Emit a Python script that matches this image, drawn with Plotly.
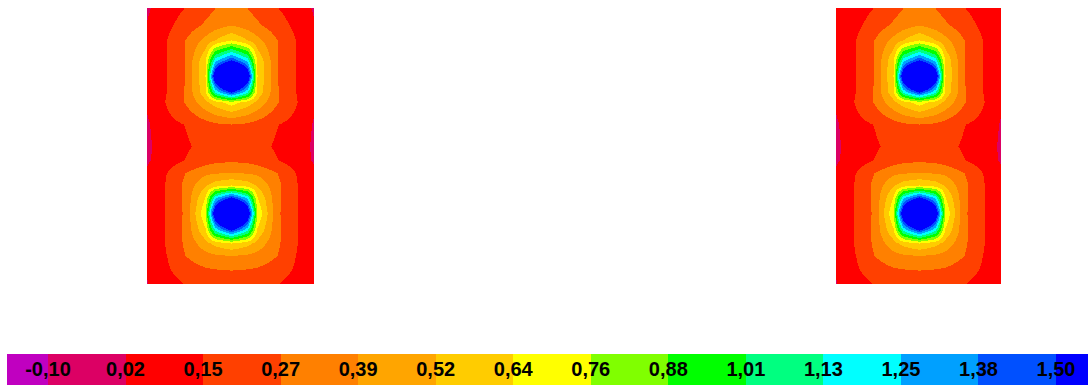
import plotly.graph_objects as go

# ---------------- data ----------------
tick_labels = ["-0,10", "0,02", "0,15", "0,27", "0,39", "0,52", "0,64",
               "0,76", "0,88", "1,01", "1,13", "1,25", "1,38", "1,50"]
tick_low = -0.10
tick_high = 1.50

band_colors = ["#C000C0", "#DC0064", "#FF0000", "#FF4000", "#FF8000",
               "#FFA500", "#FFCC00", "#FFFF00", "#80FF00", "#00FF00",
               "#00FF80", "#00FFFF", "#00A0FF", "#0050FF", "#0000FF"]

# node positions of the sampled field (px inside each panel)
col_pos = [0, 20, 38, 58, 68, 84, 100, 110, 130, 148, 167]
row_pos = [0, 17, 32, 52, 68, 84, 94, 116, 138, 152, 165, 177, 189, 205,
           222, 235, 247, 262, 276]

# values at columns x = 0, 20, 38, 58, 68, 84 (field is mirrored about x = 84)
left_half_rows = [
    [0.01, 0.09, 0.15, 0.22, 0.27, 0.32],
    [0.03, 0.12, 0.20, 0.29, 0.34, 0.39],
    [0.05, 0.15, 0.27, 0.43, 0.52, 0.64],
    [0.05, 0.15, 0.27, 0.62, 1.20, 1.50],
    [0.05, 0.15, 0.27, 0.64, 1.75, 2.80],
    [0.05, 0.15, 0.28, 0.60, 1.15, 1.50],
    [0.04, 0.16, 0.28, 0.48, 0.58, 0.70],
    [0.01, 0.11, 0.15, 0.22, 0.25, 0.27],
    [0.005, 0.08, 0.13, 0.18, 0.20, 0.21],
    [0.01, 0.09, 0.15, 0.21, 0.24, 0.25],
    [0.04, 0.15, 0.27, 0.37, 0.39, 0.40],
    [0.05, 0.16, 0.30, 0.50, 0.58, 0.64],
    [0.05, 0.16, 0.30, 0.64, 1.20, 1.50],
    [0.05, 0.16, 0.29, 0.75, 1.75, 2.80],
    [0.05, 0.16, 0.30, 0.62, 1.15, 1.50],
    [0.05, 0.16, 0.29, 0.47, 0.56, 0.64],
    [0.04, 0.15, 0.27, 0.35, 0.38, 0.40],
    [0.03, 0.13, 0.21, 0.25, 0.26, 0.27],
    [0.02, 0.09, 0.15, 0.20, 0.22, 0.23],
]
# edge values of the right panel (differ slightly from the left one)
right_panel_edge = [0.04, 0.05, 0.05, 0.05, 0.05, 0.05, 0.04, 0.01, 0.005,
                    0.01, 0.04, 0.05, 0.05, 0.05, 0.05, 0.05, 0.04, 0.03, 0.02]


def full_grid(half_rows, edge=None):
    grid = []
    for i, r in enumerate(half_rows):
        r = list(r)
        if edge is not None:
            r[0] = edge[i]
        grid.append(r + r[-2::-1])
    return grid


z_left = full_grid(left_half_rows)
z_right = full_grid(left_half_rows, right_panel_edge)

# ---------------- colour scale ----------------
n_int = len(tick_labels) - 1
step = (tick_high - tick_low) / n_int
zmin = tick_low - step
zmax = tick_high + step
nb = len(band_colors)
colorscale = []
for k, c in enumerate(band_colors):
    colorscale.append([k / nb, c])
    colorscale.append([(k + 1) / nb, c])

tick_vals = [tick_low + k * step for k in range(len(tick_labels))]
band_mids = [zmin + (k + 0.5) * step for k in range(nb)]

W, H = 1088, 385

fig = go.Figure()
fig.add_trace(go.Heatmap(x=col_pos, y=row_pos, z=z_left, zsmooth="best",
                         colorscale=colorscale, zmin=zmin, zmax=zmax,
                         showscale=False, hoverinfo="skip",
                         xaxis="x", yaxis="y"))
fig.add_trace(go.Heatmap(x=col_pos, y=row_pos, z=z_right, zsmooth="best",
                         colorscale=colorscale, zmin=zmin, zmax=zmax,
                         showscale=False, hoverinfo="skip",
                         xaxis="x2", yaxis="y2"))
fig.add_trace(go.Heatmap(x=band_mids, y=[0], z=[band_mids],
                         colorscale=colorscale, zmin=zmin, zmax=zmax,
                         showscale=False, hoverinfo="skip",
                         xaxis="x3", yaxis="y3"))

hidden = dict(visible=False, showgrid=False, zeroline=False)
panel_y = [(H - 284) / H, (H - 8) / H]
range_lo = tick_low + (7 - 48) / 77.54 * step
range_hi = tick_low + (1088 - 48) / 77.54 * step

fig.update_layout(
    width=W, height=H,
    margin=dict(l=0, r=0, t=0, b=0),
    paper_bgcolor="white", plot_bgcolor="white",
    showlegend=False,
    xaxis=dict(domain=[147 / W, 314 / W], range=[0, 167], **hidden),
    yaxis=dict(domain=panel_y, range=[276, 0], **hidden),
    xaxis2=dict(domain=[836 / W, 1001 / W], range=[0, 167], **hidden),
    yaxis2=dict(domain=panel_y, range=[276, 0], **hidden),
    xaxis3=dict(domain=[7 / W, 1], range=[range_lo, range_hi],
                tickmode="array", tickvals=tick_vals, ticktext=tick_labels,
                ticklabelposition="inside", ticklabelstandoff=2,
                ticks="", showline=False,
                showgrid=False, zeroline=False, anchor="y3",
                tickfont=dict(family="Liberation Sans, Arial, sans-serif",
                              size=20, color="black", weight="bold")),
    yaxis3=dict(domain=[0, 31 / H], range=[-0.5, 0.5], **hidden),
)

fig.write_html("out.html")
